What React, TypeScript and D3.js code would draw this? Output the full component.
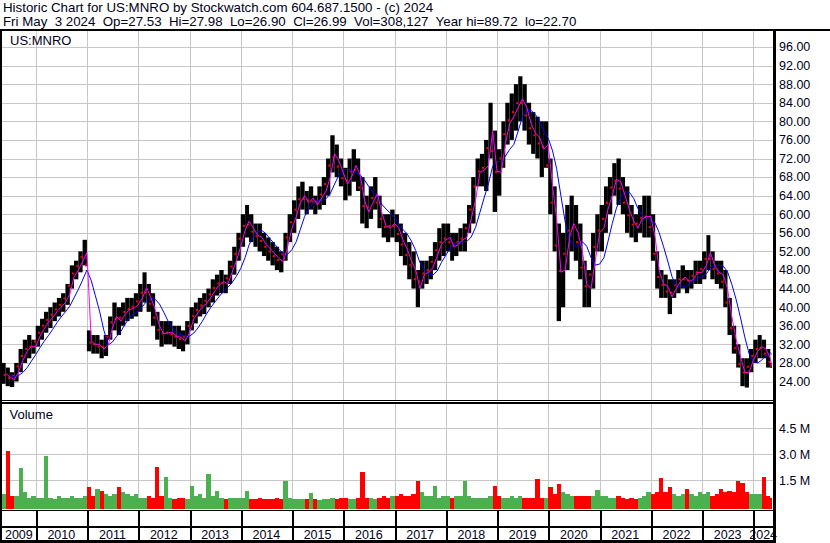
import React from "react";
import * as d3 from "d3";

// Monthly data, first month = May 2009, last = May 2024
const HIGH = [
  // 2009 May-Dec
  28, 27, 26, 28, 31, 33, 34, 33,
  // 2010
  36, 37.5, 39, 40, 41, 42, 43, 45, 49, 50, 52, 54.5,
  // 2011
  35, 34, 34, 33, 34, 38, 41, 40, 41, 42, 42, 43,
  // 2012
  45, 47.5, 45, 43, 39, 37, 37, 37, 36, 36, 35, 37,
  // 2013
  40, 41, 42, 43, 44, 46, 47, 48, 47, 50, 53, 56,
  // 2014
  60, 62, 60, 58, 58, 56, 55, 54, 53, 52, 56, 60,
  // 2015
  63, 66, 67, 65, 66, 64, 66, 68, 72, 77, 75, 72,
  // 2016
  70, 72, 74, 72, 68, 64, 66, 68, 64, 60, 60, 61,
  // 2017
  60, 58, 56, 54, 52, 48, 50, 50, 51, 54, 57, 58,
  // 2018
  58, 56, 56, 57, 58, 62, 68, 72, 73, 76, 84, 78,
  // 2019
  74, 80, 84, 86, 88, 89.7, 88, 84, 82, 81, 80, 80,
  // 2020
  72, 66, 58, 56, 62, 64, 62, 58, 50, 48, 56, 60,
  // 2021
  62, 66, 68, 71, 72, 68, 66, 62, 60, 62, 64, 64,
  // 2022
  60, 52, 48, 47, 46, 46, 48, 49, 48, 48, 50, 50,
  // 2023
  52, 55.5, 52, 50, 50, 48, 42, 36, 32, 29, 29, 31,
  // 2024 Jan-May
  33, 34, 33, 31, 28,
];

const LOW = [
  // 2009
  23.5, 23, 22.8, 24, 26, 28, 29, 30,
  // 2010
  31.5, 33, 34.5, 35.5, 37, 38, 39, 40.5, 44, 46, 47.5, 49,
  // 2011
  30.5, 30, 30, 29, 29.5, 33, 35, 34, 36, 37, 37.5, 38,
  // 2012
  39, 41, 39, 36, 33, 31.5, 32, 32, 31.5, 31, 30.5, 32,
  // 2013
  35, 36.5, 38, 38.5, 40, 41, 42.5, 43, 43, 45, 47, 50,
  // 2014
  53, 55, 54, 53, 52, 51, 50, 49, 48, 47.5, 50, 54,
  // 2015
  56, 59, 61, 60, 61, 60, 61, 62, 64, 69, 68, 66,
  // 2016
  63, 64, 67, 65, 58, 57, 59, 61, 57, 55, 54, 55,
  // 2017
  54, 51, 49, 46, 44, 40, 44, 45, 46, 48, 50, 51,
  // 2018
  52, 50, 51, 52, 52, 56, 58, 66, 66, 65, 72, 60.5,
  // 2019
  64, 70, 75, 76, 78, 80, 78, 75, 73, 72, 68, 70,
  // 2020
  60, 52, 37, 40, 48, 52, 50, 46, 40, 40, 44, 52,
  // 2021
  52, 56, 60, 64, 62, 60, 56, 55, 54, 56, 55, 55,
  // 2022
  50, 44, 42, 42, 38.5, 42, 43, 44, 43, 44, 45, 45,
  // 2023
  46, 48, 46, 45, 44, 40, 34, 30, 27, 23, 22.7, 26,
  // 2024
  28, 29, 29, 27, 26.9,
];

// Volume in millions of shares
const VOLUME = [
  0.7, 3.2, 0.6, 0.6, 2.2, 0.8, 0.5, 0.6,
  0.5, 0.5, 2.9, 0.5, 0.4, 0.6, 0.5, 0.5, 0.6, 0.5, 0.5, 0.6,
  1.1, 0.6, 1.0, 0.9, 0.7, 0.6, 0.7, 1.1, 0.8, 0.7, 0.6, 0.7,
  0.5, 0.5, 0.6, 0.5, 2.25, 0.6, 1.7, 0.5, 0.4, 0.5, 0.5, 0.4,
  1.15, 0.6, 0.7, 0.5, 1.85, 0.6, 0.9, 0.5, 0.4, 0.5, 0.5, 0.5,
  0.5, 0.9, 0.4, 0.4, 0.5, 0.4, 0.4, 0.4, 0.5, 0.4, 1.44, 0.5,
  0.4, 0.4, 0.4, 0.4, 0.75, 0.4, 0.35, 0.4, 0.4, 0.5, 0.4, 0.5,
  0.5, 0.4, 0.45, 0.5, 2.0, 0.5, 0.5, 0.45, 0.5, 0.6, 0.5, 0.6,
  0.6, 0.7, 0.6, 0.6, 0.7, 1.44, 0.8, 0.6, 0.6, 1.15, 0.5, 0.6,
  0.6, 0.5, 0.6, 0.6, 1.44, 0.6, 0.5, 0.5, 0.5, 0.5, 0.6, 1.2,
  0.6, 0.5, 0.5, 0.6, 0.5, 0.6, 0.5, 0.5, 0.5, 1.56, 0.5, 0.5,
  1.1, 0.7, 1.3, 0.8, 0.7, 0.6, 0.6, 0.6, 0.6, 0.6, 0.6, 0.95,
  0.6, 0.6, 0.5, 0.5, 0.6, 0.5, 0.4, 0.5, 0.4, 0.5, 0.6, 0.85,
  0.7, 0.8, 1.66, 0.8, 1.1, 0.7, 0.6, 0.7, 1.0, 0.7, 0.6, 0.85,
  0.7, 0.8, 0.6, 0.7, 1.0, 0.8, 0.9, 0.8, 1.45, 1.35, 0.8, 0.7,
  0.7, 0.7, 1.7, 0.6, 0.5,
];

const YEARS = [2009, 2010, 2011, 2012, 2013, 2014, 2015, 2016, 2017, 2018, 2019, 2020, 2021, 2022, 2023, 2024];
const PRICE_TICKS = [96, 92, 88, 84, 80, 76, 72, 68, 64, 60, 56, 52, 48, 44, 40, 36, 32, 28, 24];
const VOLUME_TICKS = [1.5, 3.0, 4.5];

const HEADER_1 = "Historic Chart for US:MNRO by Stockwatch.com 604.687.1500 - (c) 2024";
const HEADER_2 = "Fri May  3 2024  Op=27.53  Hi=27.98  Lo=26.90  Cl=26.99  Vol=308,127  Year hi=89.72  lo=22.70";

const FONT = "'Liberation Sans', Arial, sans-serif";
const TXT = "#000018";

// moving-average window weights, in months (short ~ 1 month, long ~ 100 trading days)
const LONG_WEIGHTS = [1, 1, 1, 1, 0.76];

export default function App() {
  const W = 830, Hh = 543;
  const PL = 2, PR = 773;
  const PT = 31, PB = 400;
  const VT = 403, VB = 509;

  const x = d3.scaleTime().domain([new Date(2010, 0, 1), new Date(2024, 0, 1)]).range([35.7, 753.3]);
  const y = d3.scaleLinear().domain([24, 96]).range([381.5, 47]);
  const yv = d3.scaleLinear().domain([0, 4.5]).range([506.3, 428.3]);

  const n = HIGH.length;
  const bars = HIGH.map((h, i) => {
    const d0 = new Date(2009, 4 + i, 1);
    const d1 = i === n - 1 ? new Date(2024, 4, 4) : new Date(2009, 5 + i, 1);
    const x0 = x(d0), x1 = Math.max(x(d1), x(d0) + 1.5);
    const lo = LOW[i];
    const mid = (h + lo) / 2;
    return { x0, x1, h, lo, mid, vol: VOLUME[i] };
  });
  const mids = bars.map(b => b.mid);

  const magentaPts: [number, number][] = bars.map((b, i) => [b.x1, y(mids[i])]);
  const bluePts: [number, number][] = bars.map((b, i) => {
    let s = 0, w = 0;
    LONG_WEIGHTS.forEach((wt, k) => {
      if (i - k >= 0) { s += wt * mids[i - k]; w += wt; }
    });
    return [b.x1, y(s / w)];
  });
  const line = d3.line();

  const yearStarts = YEARS.slice(1).map(yr => x(new Date(yr, 0, 1)));
  const yearLabelX = YEARS.map(yr => {
    const a = Math.max(PL, x(new Date(yr, 0, 1)));
    const b = Math.min(PR, x(new Date(yr + 1, 0, 1)));
    return (a + b) / 2;
  });

  const volColor = (i: number) => (i === 0 || mids[i] >= mids[i - 1] ? "#4caf50" : "#ff0000");

  return (
    <svg width={W} height={Hh} style={{ position: "absolute", left: 0, top: 0, background: "#fff" }}
      fontFamily={FONT}>
      <defs>
        <clipPath id="pc"><rect x={PL} y={PT} width={PR - PL} height={PB - PT} /></clipPath>
        <clipPath id="vc"><rect x={PL} y={VT} width={PR - PL} height={VB - VT + 1} /></clipPath>
      </defs>
      <rect x={0} y={0} width={W} height={Hh} fill="#fff" />

      {/* header */}
      <text x={3} y={12} fontSize={13.3} fill={TXT} style={{ whiteSpace: "pre" }}>{HEADER_1}</text>
      <text x={3} y={25.5} fontSize={13.3} fill={TXT} style={{ whiteSpace: "pre" }}>{HEADER_2}</text>

      {/* gridlines */}
      <g stroke="#c6c6c6" strokeWidth={1} shapeRendering="crispEdges">
        {PRICE_TICKS.map(p => (
          <line key={"pg" + p} x1={PL} x2={PR} y1={Math.round(y(p)) + 0.5} y2={Math.round(y(p)) + 0.5} />
        ))}
        {VOLUME_TICKS.map(v => (
          <line key={"vg" + v} x1={PL} x2={PR} y1={Math.round(yv(v)) + 0.5} y2={Math.round(yv(v)) + 0.5} />
        ))}
        {yearStarts.map((sx, i) => (
          <g key={"yg" + i}>
            <line x1={Math.round(sx) + 0.5} x2={Math.round(sx) + 0.5} y1={PT} y2={PB} />
            <line x1={Math.round(sx) + 0.5} x2={Math.round(sx) + 0.5} y1={VT} y2={VB} />
          </g>
        ))}
      </g>

      {/* price bars */}
      <g clipPath="url(#pc)">
        {bars.map((b, i) => (
          <rect key={"b" + i} x={b.x0} y={y(b.h)} width={b.x1 - b.x0} height={y(b.lo) - y(b.h)} fill="#000" />
        ))}
        {bars.map((b, i) => {
          const raw = i < n - 1 ? (mids[i] + mids[i + 1]) / 2 : mids[i];
          const c = Math.min(b.h, Math.max(b.lo, raw));
          return <rect key={"r" + i} x={b.x1 - 2} y={y(c) - 1} width={2} height={2} fill="#ff0000" />;
        })}
        <path d={line(bluePts.slice(1)) || ""} fill="none" stroke="#0000ff" strokeWidth={1} />
        <path d={line(magentaPts) || ""} fill="none" stroke="#ff00ff" strokeWidth={1} />
      </g>

      {/* volume bars */}
      <g clipPath="url(#vc)" shapeRendering="crispEdges">
        {bars.map((b, i) => (
          <rect key={"v" + i} x={b.x0} y={yv(b.vol)} width={b.x1 - b.x0} height={VB - yv(b.vol)} fill={volColor(i)} />
        ))}
      </g>

      {/* panel labels */}
      <text x={10} y={44.5} fontSize={13} fill={TXT}>US:MNRO</text>
      <text x={9.5} y={418.5} fontSize={13} fill={TXT}>Volume</text>

      {/* right axis labels */}
      {PRICE_TICKS.map(p => (
        <text key={"pl" + p} x={779} y={y(p)} dy="0.35em" fontSize={12.5} fill={TXT}>{p.toFixed(2)}</text>
      ))}
      {VOLUME_TICKS.map(v => (
        <text key={"vl" + v} x={779} y={yv(v)} dy="0.35em" fontSize={12.5} fill={TXT}>{v.toFixed(1) + " M"}</text>
      ))}

      {/* year labels */}
      {YEARS.map((yr, i) => (
        <text key={"yl" + yr} x={yearLabelX[i]} y={538.5} fontSize={12.5} textAnchor="middle" fill={TXT}>{yr}</text>
      ))}

      {/* frame lines */}
      <g fill="#000" shapeRendering="crispEdges">
        <rect x={0} y={29} width={W} height={2} />
        <rect x={0} y={29} width={2} height={Hh - 29} />
        <rect x={0} y={400} width={PR + 2} height={1} />
        <rect x={0} y={402} width={PR + 2} height={1.5} />
        <rect x={0} y={509.5} width={PR + 2} height={1.5} />
        <rect x={0} y={526} width={PR + 2} height={2} />
        <rect x={0} y={540} width={PR + 2} height={3} />
        {yearStarts.map((sx, i) => (
          <rect key={"yt" + i} x={Math.round(sx)} y={511} width={1.5} height={29} />
        ))}
        <rect x={PR} y={29} width={2.5} height={Hh - 29} />
      </g>
    </svg>
  );
}
